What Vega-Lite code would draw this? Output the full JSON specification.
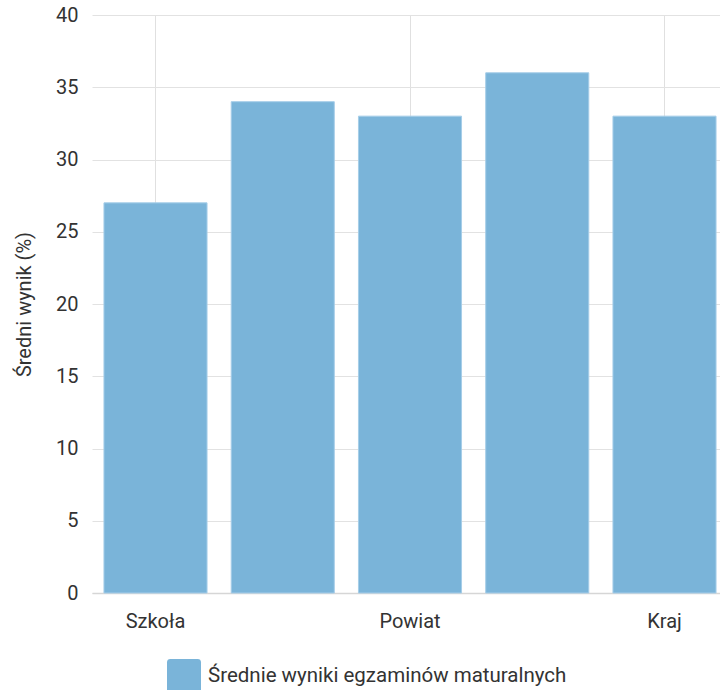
{
  "$schema": "https://vega.github.io/schema/vega-lite/v6.json",
  "width": 628,
  "height": 578,
  "autosize": {"type": "none"},
  "padding": {"left": 92, "top": 15, "right": 0, "bottom": 97},
  "background": "white",
  "config": {
    "font": "Roboto",
    "view": {"stroke": null},
    "axis": {"labelFont": "Roboto", "titleFont": "Roboto", "labelColor": "#333", "titleColor": "#333", "gridColor": "#e2e2e2", "gridWidth": 1},
    "legend": {"labelFont": "Roboto"}
  },
  "data": {
    "values": [
      {"jednostka": "Szkoła", "wynik": 27},
      {"jednostka": "Gmina", "wynik": 34},
      {"jednostka": "Powiat", "wynik": 33},
      {"jednostka": "Województwo", "wynik": 36},
      {"jednostka": "Kraj", "wynik": 33}
    ]
  },
  "mark": {"type": "bar", "stroke": "#a6cde8", "strokeWidth": 1},
  "encoding": {
    "x": {
      "field": "jednostka",
      "type": "nominal",
      "sort": null,
      "scale": {"range": [0, 636], "paddingInner": 0.19, "paddingOuter": 0.094},
      "axis": {
        "title": null,
        "values": ["Szkoła", "Powiat", "Kraj"],
        "labelAngle": 0,
        "labelFontSize": 20,
        "labelPadding": 18,
        "ticks": false,
        "domain": true,
        "domainColor": "#d6d6d6",
        "domainWidth": 1.5,
        "grid": true,
        "gridColor": "#e0e0e0"
      }
    },
    "y": {
      "field": "wynik",
      "type": "quantitative",
      "scale": {"domain": [0, 40], "nice": false},
      "axis": {
        "title": "Średni wynik (%)",
        "titleFontSize": 20,
        "titleFontWeight": "normal",
        "titlePadding": 21,
        "values": [0, 5, 10, 15, 20, 25, 30, 35, 40],
        "labelFontSize": 20,
        "labelPadding": 14,
        "ticks": false,
        "domain": false,
        "grid": true
      }
    },
    "fill": {
      "datum": "Średnie wyniki egzaminów maturalnych",
      "type": "nominal",
      "scale": {"range": ["#7ab4d9"]},
      "legend": {
        "title": null,
        "orient": "none",
        "legendX": 75,
        "legendY": 644,
        "symbolType": "M -0.8,-1 H 0.8 Q 1,-1 1,-0.8 V 0.8 Q 1,1 0.8,1 H -0.8 Q -1,1 -1,0.8 V -0.8 Q -1,-1 -0.8,-1 Z",
        "symbolSize": 1156,
        "symbolStrokeWidth": 0,
        "labelFontSize": 20.5,
        "labelColor": "#333",
        "labelOffset": 7,
        "labelLimit": 600
      }
    }
  }
}
